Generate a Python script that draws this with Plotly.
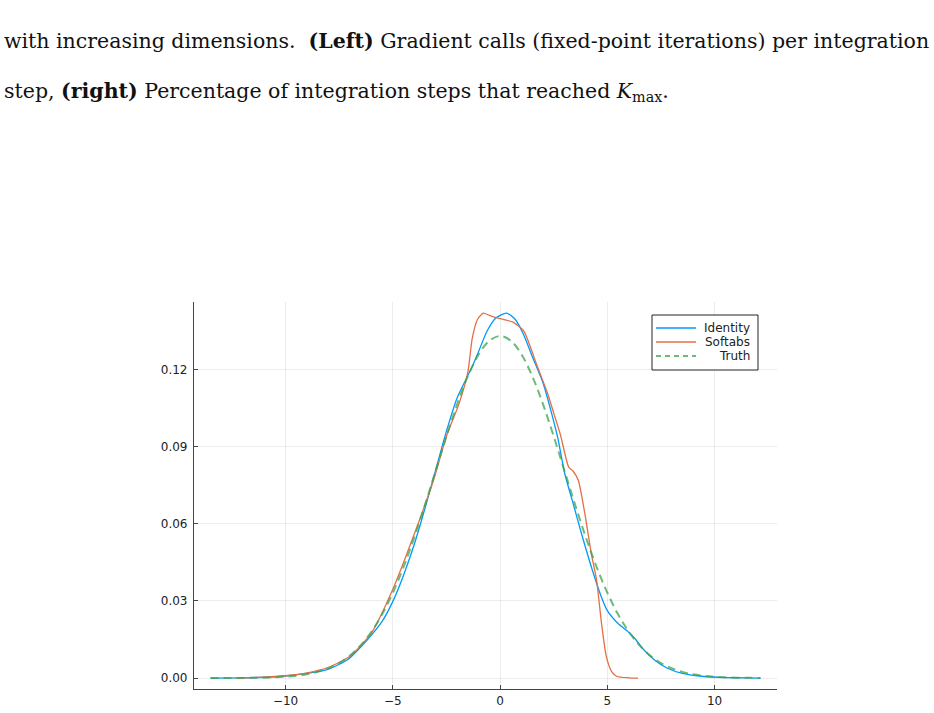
import plotly.graph_objects as go

# Identity (blue) KDE curve
identity_x = [-13.5, -12, -11, -10, -9, -8, -7.1, -6.2, -5.5, -5, -4.5, -4, -3.5, -3, -2.5, -2,
              -1.6, -1.3, -1, -0.6, -0.2, 0.3, 0.7, 1.1, 1.5, 2.0, 2.4, 2.7, 3.0, 3.4, 3.8,
              4.3, 4.7, 5.0, 5.5, 6.0, 6.3, 6.7, 7.2, 7.8, 8.5, 9.5, 10.5, 11.5, 12.14]
identity_y = [0, 0.0001, 0.0003, 0.0008, 0.0018, 0.0035, 0.0072, 0.0148, 0.022, 0.0298, 0.040,
              0.052, 0.066, 0.081, 0.096, 0.109, 0.116, 0.121, 0.127, 0.135, 0.1400, 0.1419,
              0.1395, 0.1335, 0.125, 0.1148, 0.103, 0.093, 0.080, 0.068, 0.056, 0.042, 0.032,
              0.0262, 0.0212, 0.0178, 0.0152, 0.011, 0.007, 0.0038, 0.0018, 0.0006, 0.0002,
              0.00005, 0]

# Softabs (red) KDE curve
softabs_x = [-12.3, -11.5, -10.5, -10, -9, -8, -7, -6, -5, -4, -3.1, -2.5, -1.9, -1.5, -1.3,
             -1.05, -0.78, -0.5, 0, 0.6, 1.1, 1.4, 1.7, 2.2, 2.5, 2.8, 3.2, 3.4, 3.65, 3.95,
             4.25, 4.5, 4.73, 4.95, 5.2, 5.45, 6.0, 6.43]
softabs_y = [0, 0.0002, 0.0006, 0.0009, 0.002, 0.0042, 0.0085, 0.0175, 0.0345, 0.056, 0.077,
             0.094, 0.107, 0.119, 0.132, 0.1395, 0.1419, 0.1410, 0.1397, 0.1384, 0.135,
             0.129, 0.122, 0.111, 0.103, 0.095, 0.082, 0.0805, 0.0768, 0.064, 0.0485, 0.038,
             0.0212, 0.0085, 0.0025, 0.0006, 0.0001, 0]

# Truth (green dashed) density
truth_x = [-13.5, -13, -12.5, -12, -11.5, -11, -10.5, -10, -9.5, -9, -8.5, -8, -7.5, -7, -6.5,
           -6, -5.5, -5, -4.5, -4, -3.5, -3, -2.5, -2, -1.5, -1, -0.5, 0, 0.5, 1, 1.5, 2,
           2.5, 3, 3.5, 4, 4.5, 5, 5.5, 6, 6.5, 7, 7.5, 8, 8.5, 9, 9.5, 10, 10.5, 11, 11.5,
           12, 12.14]
truth_y = [0.000002, 0.000006, 0.000023, 0.000045, 0.000086, 0.00016, 0.00029, 0.00051,
           0.00088, 0.00148, 0.00240, 0.00380, 0.00584, 0.00874, 0.01272, 0.01800, 0.02477,
           0.03316, 0.04317, 0.05467, 0.06733, 0.08066, 0.09397, 0.10648, 0.11736, 0.12579,
           0.13115, 0.13298, 0.13115, 0.12579, 0.11736, 0.10648, 0.09397, 0.08066, 0.06733,
           0.05467, 0.04317, 0.03316, 0.02477, 0.01800, 0.01272, 0.00874, 0.00584, 0.00380,
           0.00240, 0.00148, 0.00088, 0.00051, 0.00029, 0.00016, 0.000086, 0.000045, 0.00004]

series_names = ["Identity", "Softabs", "Truth"]
series_colors = ["#009AFA", "#E36F47", "#3EA44E"]

x_tick_vals = [-10, -5, 0, 5, 10]
x_tick_text = ["\u221210", "\u22125", "0", "5", "10"]
y_tick_vals = [0.0, 0.03, 0.06, 0.09, 0.12]
y_tick_text = ["0.00", "0.03", "0.06", "0.09", "0.12"]

caption_lines = [
    "with increasing dimensions.  <b>(Left)</b> Gradient calls (fixed-point iterations) per integration",
    "step, <b>(right)</b> Percentage of integration steps that reached <i>K</i><sub>max</sub>.",
]

fig = go.Figure()
fig.add_trace(go.Scatter(x=identity_x, y=identity_y, mode="lines", name=series_names[0],
                         line=dict(color=series_colors[0], width=1.3, shape="spline", smoothing=0.6)))
fig.add_trace(go.Scatter(x=softabs_x, y=softabs_y, mode="lines", name=series_names[1],
                         line=dict(color=series_colors[1], width=1.3, shape="spline", smoothing=0.6)))
fig.add_trace(go.Scatter(x=truth_x, y=truth_y, mode="lines", name=series_names[2], opacity=0.75,
                         line=dict(color=series_colors[2], width=2, dash="8px,5px", shape="spline")))

axis_common = dict(showline=True, linecolor="#444", linewidth=1.2, ticks="inside",
                   ticklen=4, tickcolor="#444", showgrid=True, gridcolor="rgba(0,0,0,0.07)",
                   gridwidth=1, zeroline=False, mirror=False, automargin=False,
                   tickfont=dict(family="DejaVu Sans", size=12, color="#222"))

fig.update_layout(
    width=934, height=713,
    paper_bgcolor="white", plot_bgcolor="white",
    margin=dict(l=194, r=157, t=302, b=24),
    xaxis=dict(range=[-14.27, 12.91], tickvals=x_tick_vals, ticktext=x_tick_text, **axis_common),
    yaxis=dict(range=[-0.00426, 0.1462], tickvals=y_tick_vals, ticktext=y_tick_text,
               ticklabelstandoff=3, **axis_common),
    showlegend=False,
)

# Legend drawn as box, line samples and text (plot area: x 194..777 px, y 302..689 px)
def px_x(p):
    return (p - 194) / 583.0

def px_y(p):
    return (689 - p) / 387.0

fig.add_shape(type="rect", xref="paper", yref="paper",
              x0=px_x(652), x1=px_x(758), y0=px_y(370), y1=px_y(315),
              line=dict(color="#222", width=1), fillcolor="white", layer="above")
legend_rows = [328, 342, 356]
legend_dash = ["solid", "solid", "5px,4px"]
legend_width = [1.3, 1.3, 1.6]
for name, color, row, dash, w in zip(series_names, series_colors, legend_rows, legend_dash, legend_width):
    fig.add_shape(type="line", xref="paper", yref="paper",
                  x0=px_x(656), x1=px_x(696), y0=px_y(row), y1=px_y(row),
                  line=dict(color=color, width=w, dash=dash), layer="above")
    fig.add_annotation(text=name, xref="paper", yref="paper", x=px_x(752), y=px_y(row),
                       xanchor="right", yanchor="middle", showarrow=False,
                       font=dict(family="DejaVu Sans", size=12, color="#222"))

caption_y = [41, 92]
for line, yy in zip(caption_lines, caption_y):
    fig.add_annotation(text=line, xref="paper", yref="paper", x=px_x(2), y=px_y(yy),
                       xanchor="left", yanchor="middle", showarrow=False,
                       font=dict(family="DejaVu Serif", size=20.5, color="#111"))

fig.write_html("out.html")
